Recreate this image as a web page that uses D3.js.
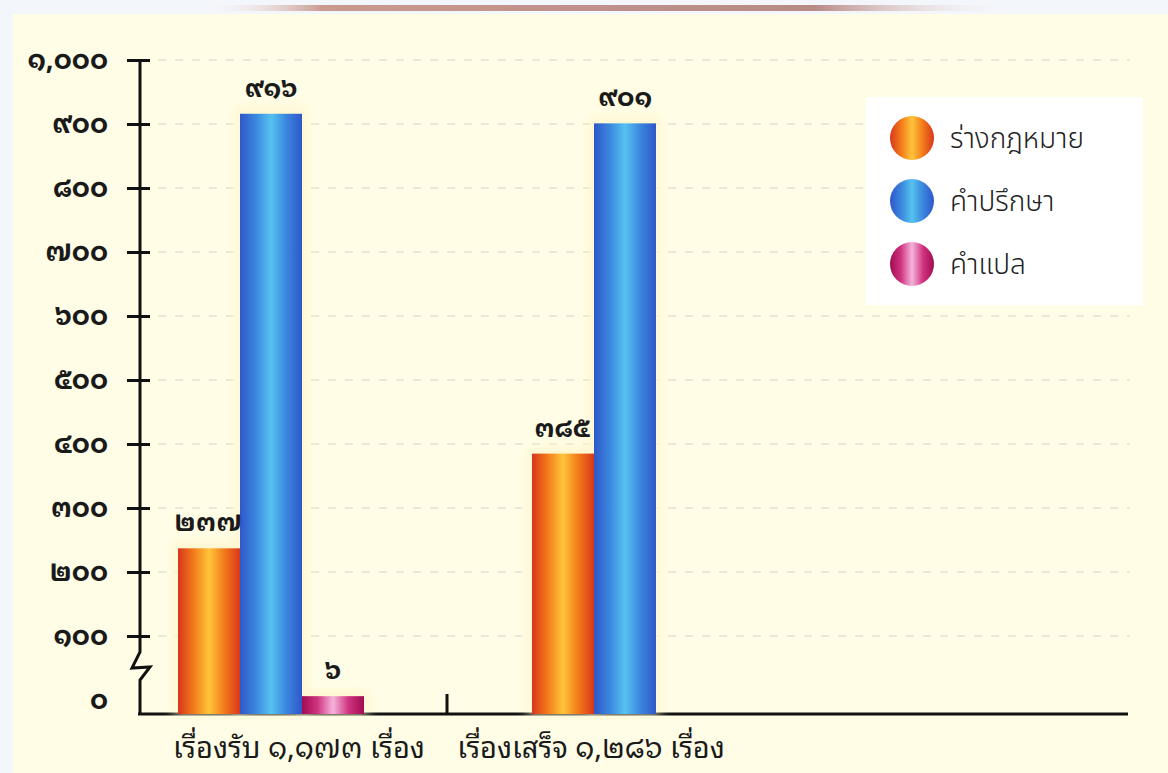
<!DOCTYPE html>
<html>
<head>
<meta charset="utf-8">
<script src="https://cdn.jsdelivr.net/npm/d3@7"></script>
<style>
  body { margin: 0; background: #eef3fa; }
  svg { display: block; }
</style>
</head>
<body>
<div id="chart"></div>
<script>
// Data
const groups = ["เรื่องรับ ๑,๑๗๓ เรื่อง", "เรื่องเสร็จ ๑,๒๘๖ เรื่อง"];
const seriesNames = ["ร่างกฎหมาย", "คำปรึกษา", "คำแปล"];
const received = [237, 916, 6];
const finished = [385, 901, null];
const tickValues = [0, 100, 200, 300, 400, 500, 600, 700, 800, 900, 1000];

// Thai digits
const thaiDigits = "๐๑๒๓๔๕๖๗๘๙";
const toThai = s => String(s).replace(/[0-9]/g, c => thaiDigits[+c]);
const fmt = v => toThai(d3.format(",")(v));

// colour stops for each series (edge, mid, centre)
const palettes = [
  ["#d8361c", "#f27a1a", "#ffc43a"],
  ["#2f57c9", "#3a86de", "#56c2f0"],
  ["#a00c52", "#d0347f", "#f6b4dc"]
];

const W = 1168, H = 773;
const thaiFont = "'Noto Sans Thai Looped', 'Noto Serif Thai', 'Norasi', 'Loma', 'Garuda', 'Noto Sans Thai', sans-serif";
const thaiSans = "'Noto Sans Thai', 'Loma', 'Garuda', 'Noto Sans', sans-serif";

const svg = d3.select("#chart").append("svg")
  .attr("width", W).attr("height", H);

const defs = svg.append("defs");
palettes.forEach((p, i) => {
  const g = defs.append("linearGradient").attr("id", "grad" + i)
    .attr("x1", "0%").attr("x2", "100%").attr("y1", "0%").attr("y2", "0%");
  [[0, p[0]], [0.25, p[1]], [0.5, p[2]], [0.75, p[1]], [1, p[0]]].forEach(s => {
    g.append("stop").attr("offset", s[0]).attr("stop-color", s[1]);
  });
});
const topGrad = defs.append("linearGradient").attr("id", "topline");
[[0, "#ffffff", 0], [0.15, "#c89a90", 1], [0.75, "#b88a86", 1], [1, "#ffffff", 0]].forEach(s => {
  topGrad.append("stop").attr("offset", s[0]).attr("stop-color", s[1]).attr("stop-opacity", s[2]);
});
defs.append("filter").attr("id", "glow").attr("x", "-30%").attr("y", "-10%")
  .attr("width", "160%").attr("height", "120%")
  .append("feGaussianBlur").attr("stdDeviation", 6);

// panel background
svg.append("rect").attr("x", 0).attr("y", 0).attr("width", W).attr("height", H).attr("fill", "#f3f6fb");
svg.append("rect").attr("x", 13).attr("y", 14).attr("width", W - 13).attr("height", H - 14).attr("fill", "#fffde6");
svg.append("rect").attr("x", 200).attr("y", 5).attr("width", 820).attr("height", 6).attr("fill", "url(#topline)");

// Scales
const y = d3.scaleLinear().domain([0, 1000]).range([700, 60]);
const baseY = 714;
const x0 = d3.scaleBand().domain(groups).range([178, 886]).paddingInner(0);
const barW = 62;

// gridlines
svg.append("g")
  .selectAll("line")
  .data(tickValues.slice(1))
  .join("line")
  .attr("x1", 158).attr("x2", 1130)
  .attr("y1", d => y(d)).attr("y2", d => y(d))
  .attr("stroke", "#d4d4cc")
  .attr("stroke-width", 1.2)
  .attr("stroke-dasharray", "8,9");

// y axis with custom ticks
const yAxis = svg.append("g").attr("transform", "translate(140,0)")
  .call(d3.axisLeft(y).tickValues(tickValues.slice(1)).tickSizeInner(13).tickSizeOuter(0).tickFormat(""));
yAxis.select(".domain").remove();
yAxis.selectAll(".tick line").attr("x2", 10).attr("x1", -13).attr("stroke", "#111").attr("stroke-width", 3);

// axis line with break
svg.append("path")
  .attr("d", d3.line()([[140, 60], [140, 652], [132, 668], [150, 667], [140, 680], [140, baseY]]))
  .attr("fill", "none").attr("stroke", "#111").attr("stroke-width", 3).attr("stroke-linejoin", "miter");

// tick labels
svg.append("g")
  .selectAll("text")
  .data(tickValues)
  .join("text")
  .attr("x", 108)
  .attr("y", d => y(d))
  .attr("dy", "0.35em")
  .attr("text-anchor", "end")
  .attr("font-family", thaiFont)
  .attr("font-weight", "bold")
  .attr("font-size", 27)
  .attr("fill", "#1a1a1a")
  .text(d => fmt(d));

// x axis
svg.append("line").attr("x1", 138).attr("x2", 1128).attr("y1", baseY).attr("y2", baseY)
  .attr("stroke", "#111").attr("stroke-width", 3);
svg.append("line").attr("x1", 447).attr("x2", 447).attr("y1", 694).attr("y2", baseY)
  .attr("stroke", "#111").attr("stroke-width", 3);

// bars
const rows = [received, finished];
const barData = [];
rows.forEach((vals, gi) => {
  vals.forEach((v, si) => {
    if (v != null) barData.push({ group: groups[gi], series: si, value: v });
  });
});
const bx = d => x0(d.group) + d.series * barW;

const barsG = svg.append("g");
barsG.selectAll("rect.glow")
  .data(barData)
  .join("rect")
  .attr("class", "glow")
  .attr("x", d => bx(d) - 4)
  .attr("y", d => y(d.value) - 6)
  .attr("width", barW + 8)
  .attr("height", d => baseY - y(d.value) + 6)
  .attr("fill", "#fff6cf")
  .attr("filter", "url(#glow)");
barsG.selectAll("rect.bar")
  .data(barData)
  .join("rect")
  .attr("class", "bar")
  .attr("x", d => bx(d))
  .attr("y", d => y(d.value))
  .attr("width", barW)
  .attr("height", d => baseY - y(d.value))
  .attr("fill", d => `url(#grad${d.series})`);

// value labels
svg.append("g")
  .selectAll("text")
  .data(barData)
  .join("text")
  .attr("x", d => bx(d) + barW / 2 + (d.series === 0 ? -1 : 0))
  .attr("y", d => y(d.value) - 17)
  .attr("text-anchor", "middle")
  .attr("font-family", thaiFont)
  .attr("font-weight", "bold")
  .attr("font-size", 26)
  .attr("fill", "#1a1a1a")
  .text(d => fmt(d.value));

// group labels
svg.append("g")
  .selectAll("text")
  .data(groups)
  .join("text")
  .attr("x", (d, i) => i === 0 ? 299 : 591)
  .attr("y", 758)
  .attr("text-anchor", "middle")
  .attr("font-family", thaiFont)
  .attr("font-size", 29)
  .attr("fill", "#1a1a1a")
  .text(d => d);

// legend
const legend = svg.append("g");
legend.append("rect").attr("x", 866).attr("y", 97).attr("width", 277).attr("height", 208).attr("fill", "#ffffff");
const li = legend.selectAll("g.item")
  .data(seriesNames)
  .join("g")
  .attr("class", "item")
  .attr("transform", (d, i) => `translate(912,${138 + i * 63})`);
li.append("circle").attr("r", 22).attr("fill", (d, i) => `url(#grad${i})`);
li.append("text")
  .attr("x", 38)
  .attr("dy", "0.35em")
  .attr("font-family", thaiSans)
  .attr("font-size", 28)
  .attr("font-weight", 300)
  .attr("fill", "#222")
  .text(d => d);
</script>
</body>
</html>
